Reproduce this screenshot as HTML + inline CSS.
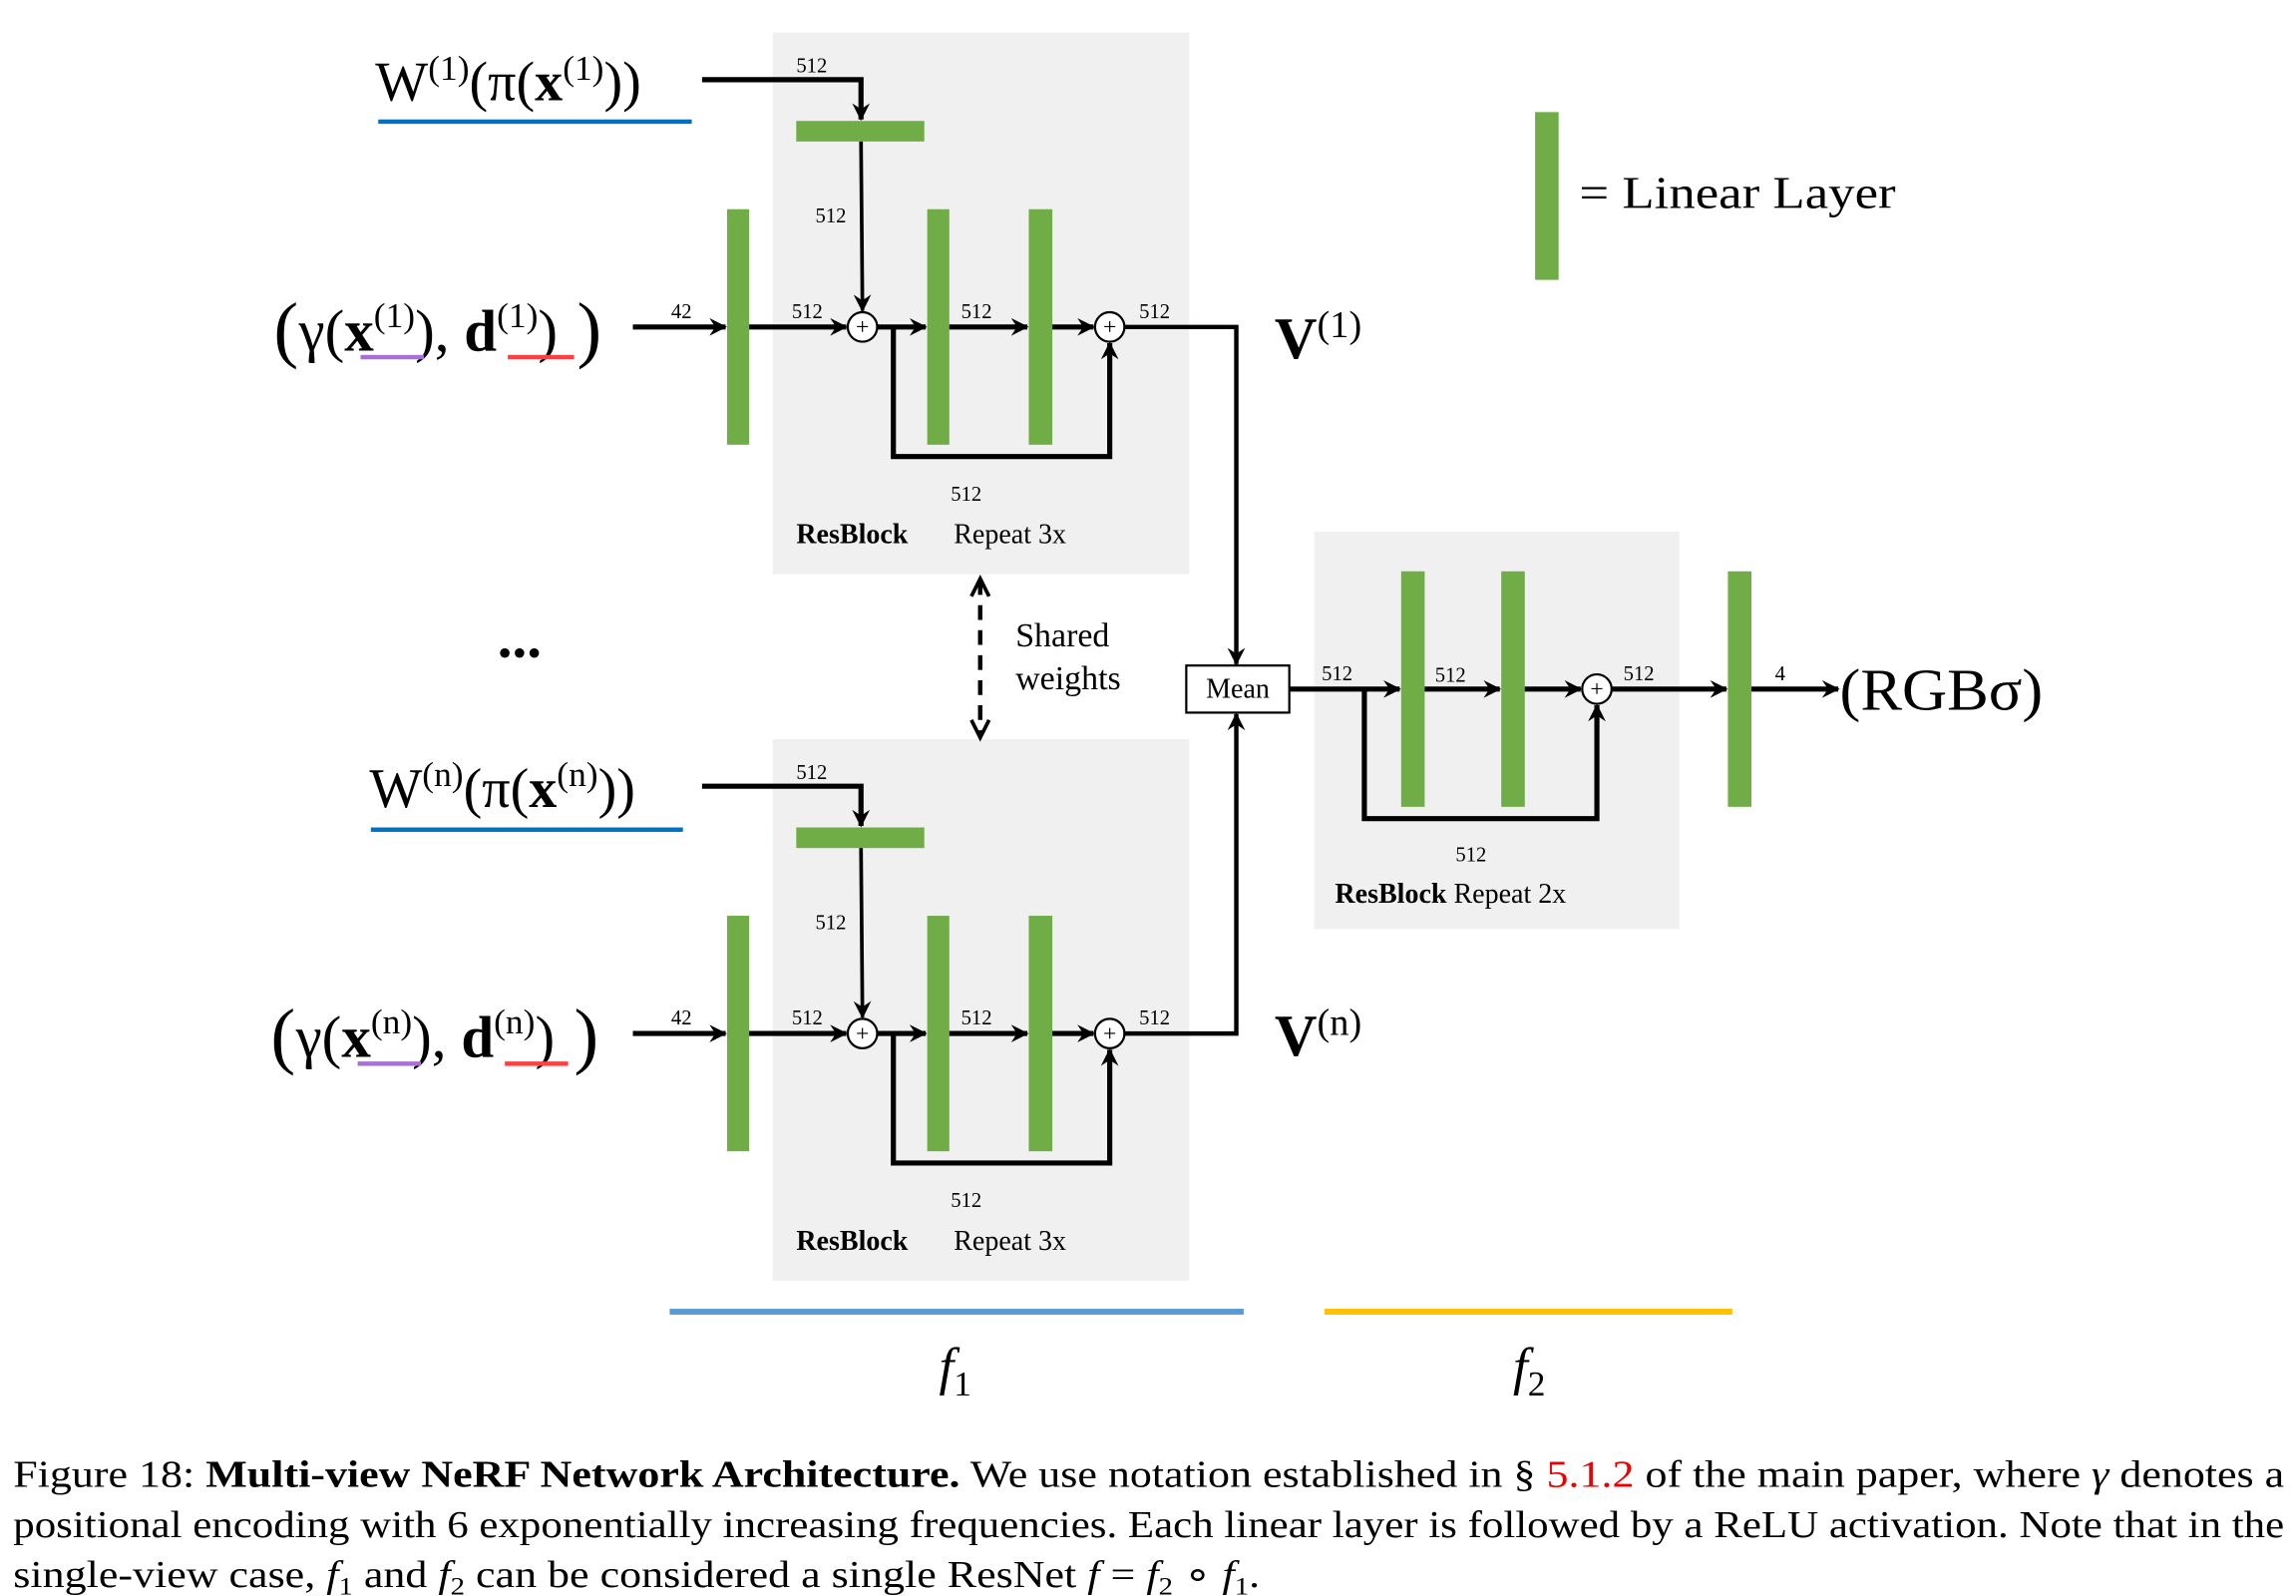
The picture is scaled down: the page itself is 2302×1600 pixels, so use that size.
<!DOCTYPE html>
<html><head><meta charset="utf-8"><style>html,body{margin:0;padding:0;background:#fff}svg{display:block}svg text{font-family:"Liberation Serif","Times New Roman",serif}</style></head>
<body>
<svg xmlns="http://www.w3.org/2000/svg" width="2302" height="1600" viewBox="0 0 1560 1084">
<defs>
<marker id="b" viewBox="0 0 12 12" refX="11" refY="6" markerWidth="12" markerHeight="12" orient="auto" markerUnits="userSpaceOnUse"><path d="M0,0 L12,6 L0,12 L4,6 z" fill="#000"/></marker>
</defs>
<rect x="525" y="22" width="283" height="368" fill="#f0f0f0"/>
<rect x="525" y="502" width="283" height="368" fill="#f0f0f0"/>
<rect x="893" y="361" width="248" height="270" fill="#f0f0f0"/>

<g id="blk">
<rect x="494" y="142" width="15" height="160" fill="#70ad47"/>
<rect x="630" y="142" width="15" height="160" fill="#70ad47"/>
<rect x="699" y="142" width="16" height="160" fill="#70ad47"/>
<rect x="541" y="82" width="87" height="14" fill="#70ad47"/>
<g stroke="#000" fill="none">
<polyline points="477,54 585,54 585,81" stroke-width="3.5" marker-end="url(#b)"/>
<line x1="585" y1="96" x2="586" y2="211" stroke-width="2.5" marker-end="url(#b)"/>
<line x1="430" y1="222" x2="493" y2="222" stroke-width="3.5" marker-end="url(#b)"/>
<line x1="509" y1="222" x2="575" y2="222" stroke-width="3.5" marker-end="url(#b)"/>
<line x1="596" y1="222" x2="629" y2="222" stroke-width="3.5" marker-end="url(#b)"/>
<line x1="645" y1="222" x2="698" y2="222" stroke-width="3.5" marker-end="url(#b)"/>
<line x1="715" y1="222" x2="743" y2="222" stroke-width="3.5" marker-end="url(#b)"/>
<polyline points="607,222 607,310 754,310 754,233" stroke-width="3.5" marker-end="url(#b)"/>
<circle cx="586" cy="222" r="10" fill="#fff" stroke-width="1.5"/>
<circle cx="754" cy="222" r="10" fill="#fff" stroke-width="1.5"/>
</g>
<text x="586" y="227" font-size="16" text-anchor="middle">+</text>
<text x="754" y="227" font-size="16" text-anchor="middle">+</text>
<g font-size="14"><text x="541" y="49">512</text><text x="554" y="151">512</text><text x="456" y="216">42</text><text x="538" y="216">512</text><text x="653" y="216">512</text><text x="774" y="216">512</text><text x="646" y="340">512</text></g>
<text x="541" y="369" font-size="19" font-weight="bold">ResBlock</text>
<text x="648" y="369" font-size="19">Repeat 3x</text>
</g>
<use href="#blk" transform="translate(0,480)"/>

<text x="255" y="68" font-size="38">W<tspan font-size="24" dy="-14">(1)</tspan><tspan dy="14">(π(</tspan><tspan font-weight="bold">x</tspan><tspan font-size="24" dy="-14">(1)</tspan><tspan dy="14">))</tspan></text>
<rect x="257" y="81" width="213" height="3" fill="#0070c0"/>
<text x="251" y="548" font-size="38">W<tspan font-size="24" dy="-14">(n)</tspan><tspan dy="14">(π(</tspan><tspan font-weight="bold">x</tspan><tspan font-size="24" dy="-14">(n)</tspan><tspan dy="14">))</tspan></text>
<rect x="252" y="562" width="212" height="3" fill="#0070c0"/>

<text x="186" y="240" font-size="50">(</text>
<text x="203" y="238" font-size="40">γ(<tspan font-weight="bold">x</tspan><tspan font-size="24" dy="-16">(1)</tspan><tspan dy="16">),  </tspan><tspan font-weight="bold">d</tspan><tspan font-size="24" dy="-16">(1)</tspan><tspan dy="16">)</tspan></text>
<text x="392" y="240" font-size="50">)</text>
<rect x="245" y="241" width="43" height="3" fill="#a86fd6"/>
<rect x="345" y="241" width="45" height="3" fill="#ff4040"/>

<text x="184" y="720" font-size="50">(</text>
<text x="201" y="718" font-size="40">γ(<tspan font-weight="bold">x</tspan><tspan font-size="24" dy="-16">(n)</tspan><tspan dy="16">),  </tspan><tspan font-weight="bold">d</tspan><tspan font-size="24" dy="-16">(n)</tspan><tspan dy="16">)</tspan></text>
<text x="390" y="720" font-size="50">)</text>
<rect x="243" y="721" width="43" height="3" fill="#a86fd6"/>
<rect x="343" y="721" width="43" height="3" fill="#ff4040"/>

<g stroke="#000" fill="none">
<polyline points="764,222 840,222 840,451" stroke-width="3" marker-end="url(#b)"/>
<polyline points="764,702 840,702 840,485" stroke-width="3" marker-end="url(#b)"/>
<line x1="666" y1="394" x2="666" y2="500" stroke-width="3" stroke-dasharray="10,7"/>
<path d="M660,405 L666,393 L672,405" stroke-width="2.5"/>
<path d="M660,489 L666,501 L672,489" stroke-width="2.5"/>
</g>
<rect x="806" y="452" width="70" height="32" fill="#fff" stroke="#000" stroke-width="1.5"/>
<text x="841" y="474" font-size="19" text-anchor="middle">Mean</text>
<text x="690" y="439" font-size="23">Shared</text>
<text x="690" y="468" font-size="23">weights</text>
<text x="338" y="446" font-size="40" font-weight="bold">...</text>
<text x="866" y="243" font-size="40" font-weight="bold">V<tspan font-size="26" font-weight="normal" dy="-14">(1)</tspan></text>
<text x="866" y="717" font-size="40" font-weight="bold">V<tspan font-size="26" font-weight="normal" dy="-14">(n)</tspan></text>

<rect x="952" y="388" width="16" height="160" fill="#70ad47"/>
<rect x="1020" y="388" width="16" height="160" fill="#70ad47"/>
<rect x="1174" y="388" width="16" height="160" fill="#70ad47"/>
<g stroke="#000" fill="none" stroke-width="3.5">
<line x1="876" y1="468" x2="951" y2="468" marker-end="url(#b)"/>
<line x1="968" y1="468" x2="1019" y2="468" marker-end="url(#b)"/>
<line x1="1036" y1="468" x2="1074" y2="468" marker-end="url(#b)"/>
<line x1="1095" y1="468" x2="1173" y2="468" marker-end="url(#b)"/>
<line x1="1190" y1="468" x2="1249" y2="468" marker-end="url(#b)"/>
<polyline points="927,468 927,556 1085,556 1085,479" marker-end="url(#b)"/>
<circle cx="1085" cy="468" r="10" fill="#fff" stroke-width="1.5"/>
</g>
<text x="1085" y="473" font-size="16" text-anchor="middle">+</text>
<g font-size="14"><text x="898" y="462">512</text><text x="975" y="463">512</text><text x="1103" y="462">512</text><text x="1206" y="462">4</text><text x="989" y="585">512</text></g>
<text x="907" y="613" font-size="19"><tspan font-weight="bold">ResBlock</tspan> Repeat 2x</text>
<text x="1250" y="482" font-size="40" textLength="138" lengthAdjust="spacingAndGlyphs">(RGBσ)</text>

<rect x="1043" y="76" width="16" height="114" fill="#70ad47"/>
<text x="1073" y="141" font-size="31" textLength="215" lengthAdjust="spacingAndGlyphs">= Linear Layer</text>

<rect x="455" y="889" width="390" height="4" fill="#5b9bd5"/>
<rect x="900" y="889" width="277" height="4" fill="#ffc000"/>
<text x="638" y="940" font-size="36" font-style="italic">f<tspan font-size="24" font-style="normal" dy="8">1</tspan></text>
<text x="1028" y="940" font-size="36" font-style="italic">f<tspan font-size="24" font-style="normal" dy="8">2</tspan></text>

<g font-size="26">
<text x="9" y="1010" textLength="1543" lengthAdjust="spacingAndGlyphs">Figure 18:  <tspan font-weight="bold">Multi-view NeRF Network Architecture.</tspan>  We use notation established in § <tspan fill="#e00">5.1.2</tspan> of the main paper, where <tspan font-style="italic">γ</tspan> denotes a</text>
<text x="9" y="1044" textLength="1543" lengthAdjust="spacingAndGlyphs">positional encoding with 6 exponentially increasing frequencies.  Each linear layer is followed by a ReLU activation.  Note that in the</text>
<text x="9" y="1078" textLength="847" lengthAdjust="spacingAndGlyphs">single-view case, <tspan font-style="italic">f</tspan><tspan font-size="17" dy="5">1</tspan><tspan dy="-5"> and </tspan><tspan font-style="italic">f</tspan><tspan font-size="17" dy="5">2</tspan><tspan dy="-5"> can be considered a single ResNet </tspan><tspan font-style="italic">f</tspan> = <tspan font-style="italic">f</tspan><tspan font-size="17" dy="5">2</tspan><tspan dy="-5"> ∘ </tspan><tspan font-style="italic">f</tspan><tspan font-size="17" dy="5">1</tspan><tspan dy="-5">.</tspan></text>
</g>
</svg>
</body></html>
